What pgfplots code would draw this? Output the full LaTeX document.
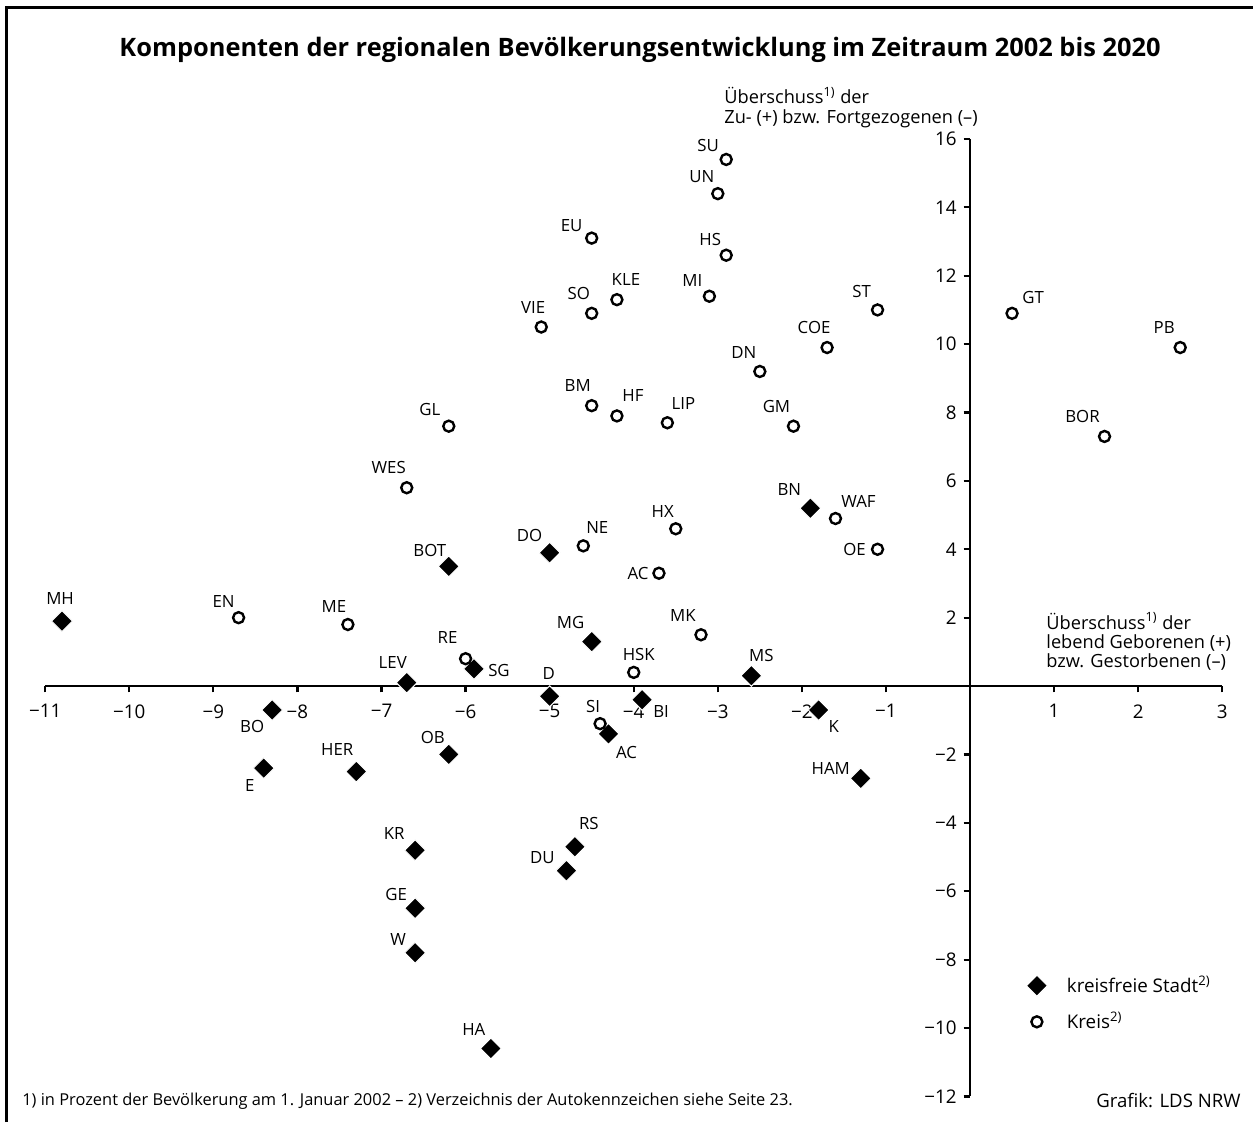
\documentclass[border=0pt]{standalone}
\usepackage{pgfplots}
\pgfplotsset{compat=1.18}
\usepackage{pgfplotstable}
\usepackage{fontspec}
\setmainfont{Open Sans}
\setsansfont{Open Sans}

% x y dx dy label
\pgfplotstableread{
x y dx dy label
-10.8 1.9 -1 11.5 MH
-6.2 3.5 -9.5 8 BOT
-5.0 3.9 -10 8.5 DO
-1.9 5.2 -10.5 9.5 BN
-4.5 1.3 -10.5 9.5 MG
-5.9 0.5 12.5 -1 SG
-6.7 0.1 -7 10 LEV
-2.6 0.3 5 10 MS
-5.0 -0.3 -0.5 11.5 D
-3.9 -0.4 9.5 -6 BI
-8.3 -0.7 -10 -8 BO
-1.8 -0.7 7.5 -8.5 K
-4.3 -1.4 9 -9.5 AC
-6.2 -2.0 -8 8.5 OB
-8.4 -2.4 -7 -8.5 E
-7.3 -2.5 -9.5 11 HER
-1.3 -2.7 -15 5 HAM
-6.6 -4.8 -10.5 8.5 KR
-4.7 -4.7 7 11.5 RS
-4.8 -5.4 -12 6.5 DU
-6.6 -6.5 -9.5 7 GE
-6.6 -7.8 -8.5 6.5 W
-5.7 -10.6 -8.5 9.5 HA
}\stadt

\pgfplotstableread{
x y dx dy label
-2.9 15.4 -9 7 SU
-3.0 14.4 -8 8.5 UN
-4.5 13.1 -10 6.5 EU
-2.9 12.6 -8 8 HS
-4.2 11.3 4.5 10 KLE
-3.1 11.4 -8.5 8 MI
-4.5 10.9 -6.5 10 SO
-5.1 10.5 -4 10 VIE
-1.1 11.0 -8 9 ST
-1.7 9.9 -6.5 10 COE
-2.5 9.2 -8 9.5 DN
-4.5 8.2 -7 10 BM
-4.2 7.9 8 10 HF
-3.6 7.7 8 9.5 LIP
-2.1 7.6 -8.5 10 GM
-6.2 7.6 -9.5 8.5 GL
0.5 10.9 10.5 8 GT
2.5 9.9 -8 10 PB
1.6 7.3 -11 10 BOR
-6.7 5.8 -9 10 WES
-1.6 4.9 11.5 8.5 WAF
-1.1 4.0 -11.5 0 OE
-3.5 4.6 -6.5 8.5 HX
-4.6 4.1 7 9 NE
-3.7 3.3 -10.5 0 AC
-8.7 2.0 -7.5 8 EN
-7.4 1.8 -7 9 ME
-3.2 1.5 -9 9.5 MK
-6.0 0.8 -9 10.5 RE
-4.0 0.4 2.5 9 HSK
-4.4 -1.1 -3.5 8.5 SI
}\kreis

\begin{document}
\begin{tikzpicture}
\begin{axis}[
  x=42.03pt, y=17.095pt,
  xmin=-11, xmax=3, ymin=-12, ymax=16,
  axis lines=middle,
  axis line style={line width=1.25pt, -},
  clip=false,
  xtick={-11,-10,-9,-8,-7,-6,-5,-4,-3,-2,-1,1,2,3},
  xticklabels={−11,−10,−9,−8,−7,−6,−5,−4,−3,−2,−1,1,2,3},
  ytick={-12,-10,-8,-6,-4,-2,2,4,6,8,10,12,14,16},
  yticklabels={−12,−10,−8,−6,−4,−2,2,4,6,8,10,12,14,16},
  tick align=outside,
  major tick length=3.2pt,
  tick style={line width=1.1pt, black},
  ticklabel style={font=\fontsize{9.4}{11}\selectfont},
  xticklabel style={yshift=-2.5pt},
  legend style={draw=none, fill=none, at={(axis cs:0.41,-9.29)}, anchor=west,
    font=\fontsize{9.4}{11}\selectfont, row sep=4pt},
  legend cell align=left,
  legend image code/.code={\path[draw=none,fill=none] (0pt,0pt) -- (26pt,0pt);
     \draw[#1] plot[only marks] coordinates {(13pt,0pt)};},
]
\addplot[only marks, mark=square*, mark size=3.7pt,
  mark options={fill=black, draw=white, line width=0.5pt, rotate=45},
  nodes near coords,
  point meta=explicit symbolic,
  visualization depends on={\thisrow{dx} \as \dx},
  visualization depends on={\thisrow{dy} \as \dy},
  every node near coord/.append style={anchor=center, xshift=\dx pt, yshift=\dy pt,
     inner sep=0pt, font=\fontsize{8.4}{10}\selectfont, text=black}]
  table[x=x, y=y, meta=label] {\stadt};
\addlegendentry{kreisfreie Stadt\textsuperscript{2)}}
\addplot[only marks, mark=o, mark size=2.75pt,
  mark options={fill=white, draw=black, line width=1.2pt},
  nodes near coords,
  point meta=explicit symbolic,
  visualization depends on={\thisrow{dx} \as \dx},
  visualization depends on={\thisrow{dy} \as \dy},
  every node near coord/.append style={anchor=center, xshift=\dx pt, yshift=\dy pt,
     inner sep=0pt, font=\fontsize{8.4}{10}\selectfont, text=black}]
  table[x=x, y=y, meta=label] {\kreis};
\addlegendentry{Kreis\textsuperscript{2)}}

\node[font=\bfseries\fontsize{12.7}{15}\selectfont] at (axis cs:-3.925,18.60)
  {Komponenten der regionalen Bevölkerungsentwicklung im Zeitraum 2002 bis 2020};
\node[anchor=west, align=left, font=\fontsize{9.1}{9.7}\selectfont, inner sep=0pt] at (axis cs:-2.926,16.92)
  {Überschuss\textsuperscript{1)} der\\Zu- (+) bzw. Fortgezogenen (–)};
\node[anchor=west, align=left, font=\fontsize{9.1}{9.7}\selectfont, inner sep=0pt] at (axis cs:0.904,1.30)
  {Überschuss\textsuperscript{1)} der\\lebend Geborenen (+)\\bzw. Gestorbenen (–)};
\node[anchor=west, font=\fontsize{8.2}{9}\selectfont, inner sep=0pt] at (axis cs:-11.277,-12.14)
  {1) in Prozent der Bevölkerung am 1. Januar 2002 – 2) Verzeichnis der Autokennzeichen siehe Seite 23.};
\node[anchor=east, font=\fontsize{9.3}{11}\selectfont, inner sep=0pt] at (axis cs:3.223,-12.11)
  {Grafik: LDS NRW};
\draw[line width=1.5pt] (axis cs:-11.455,-12.752) -- (axis cs:-11.455,19.85) -- (axis cs:3.366,19.85);
\coordinate (TL) at (axis cs:-11.538,20.064);
\coordinate (BR) at (axis cs:3.366,-12.752);
\end{axis}
\pgfresetboundingbox
\path[use as bounding box] (TL) rectangle (BR);
\end{tikzpicture}
\end{document}
